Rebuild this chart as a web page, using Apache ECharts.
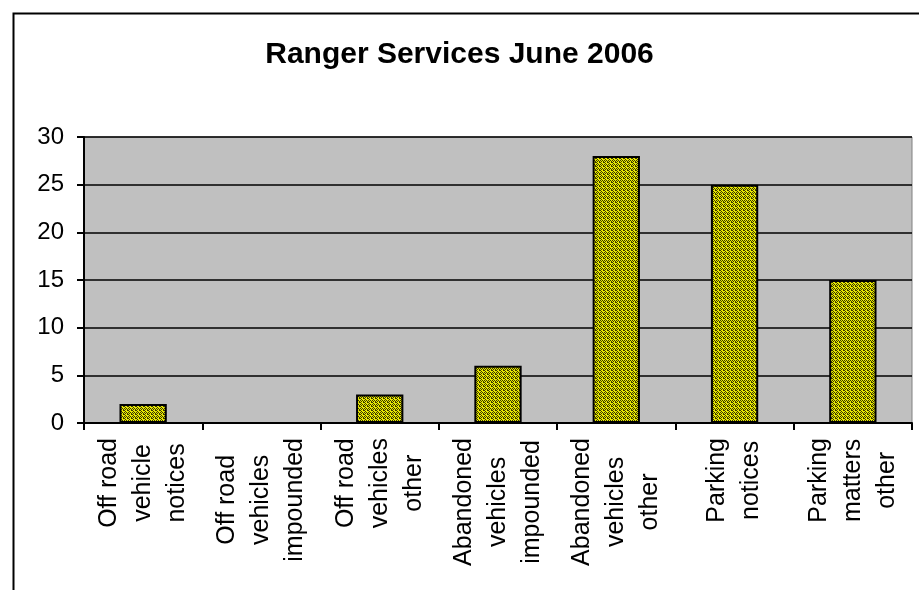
<!DOCTYPE html>
<html>
<head>
<meta charset="utf-8">
<script src="https://cdn.jsdelivr.net/npm/echarts@6/dist/echarts.min.js"></script>
<style>
  html, body { margin: 0; padding: 0; background: #ffffff; }
  #chart { width: 919px; height: 590px; }
</style>
</head>
<body>
<div id="chart"></div>
<script>
const titleText = 'Ranger Services June 2006';
const categories = [
  'Off road\nvehicle\nnotices',
  'Off road\nvehicles\nimpounded',
  'Off road\nvehicles\nother',
  'Abandoned\nvehicles\nimpounded',
  'Abandoned\nvehicles\nother',
  'Parking\nnotices',
  'Parking\nmatters\nother'
];
const values = [2, 0, 3, 6, 28, 25, 15];
const yTicks = { min: 0, max: 30, interval: 5 };

function makePattern() {
  const c = document.createElement('canvas');
  c.width = 4; c.height = 4;
  const g = c.getContext('2d');
  g.fillStyle = '#eaea00';
  g.fillRect(0, 0, 4, 4);
  g.fillStyle = '#3a3a00';
  const dots = [[0,0],[2,0],[1,1],[3,2],[0,2],[1,3],[3,1]];
  dots.forEach(function (d) { g.fillRect(d[0], d[1], 1, 1); });
  return c;
}

const chart = echarts.init(document.getElementById('chart'), null, { renderer: 'canvas' });
const font = '"Liberation Sans", Arial, sans-serif';
chart.setOption({
  animation: false,
  backgroundColor: '#ffffff',
  textStyle: { fontFamily: font },
  title: {
    text: titleText,
    left: 'center',
    top: 35,
    textStyle: { fontFamily: font, fontSize: 30, fontWeight: 'bold', color: '#000' }
  },
  graphic: [{
    type: 'rect',
    left: 11, top: 11,
    shape: { width: 1000, height: 1000 },
    style: { fill: 'none', stroke: '#000', lineWidth: 2 },
    silent: true
  }],
  grid: {
    left: 84, right: 7, top: 137, bottom: 167,
    show: true,
    backgroundColor: '#c0c0c0',
    borderColor: '#808080',
    borderWidth: 1
  },
  xAxis: {
    type: 'category',
    data: categories,
    axisLine: { lineStyle: { color: '#000', width: 2 } },
    axisTick: { show: true, inside: false, length: 7, lineStyle: { color: '#000', width: 2 } },
    axisLabel: {
      interval: 0,
      rotate: 90,
      margin: 15,
      color: '#000',
      fontSize: 25,
      lineHeight: 34,
      fontFamily: font,
      formatter: function (v) {
        return v.split('\n').map(function (s) { return '{c|' + s + '}'; }).join('\n');
      },
      rich: { c: { align: 'center', fontSize: 25, lineHeight: 34, fontFamily: font, color: '#000' } }
    }
  },
  yAxis: {
    type: 'value',
    min: yTicks.min, max: yTicks.max, interval: yTicks.interval,
    axisLine: { show: true, lineStyle: { color: '#000', width: 2 } },
    axisTick: { show: true, inside: false, length: 7, lineStyle: { color: '#000', width: 2 } },
    axisLabel: { margin: 20, color: '#000', fontSize: 24, fontFamily: font },
    splitLine: { show: true, lineStyle: { color: '#000', width: 1.5 } }
  },
  series: [{
    type: 'bar',
    data: values,
    barWidth: '40%',
    itemStyle: {
      color: { image: makePattern(), repeat: 'repeat' },
      borderColor: '#000',
      borderWidth: 2
    }
  }]
});
</script>
</body>
</html>
